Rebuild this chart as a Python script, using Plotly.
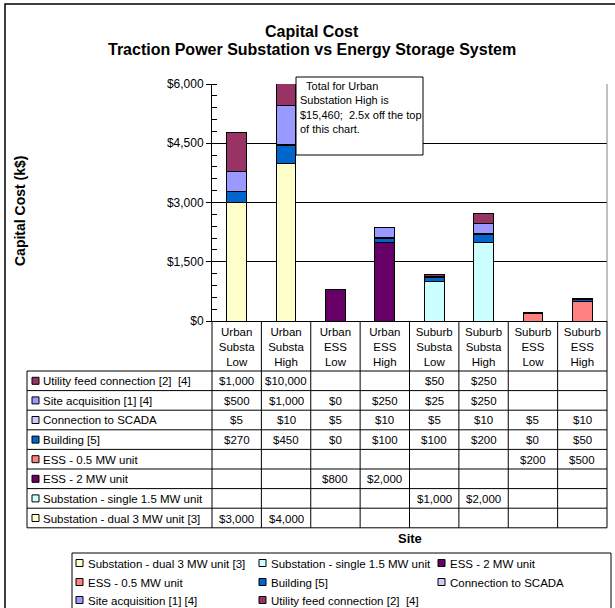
import plotly.graph_objects as go

# ---- data -------------------------------------------------------------
sites = ["Urban Substa Low", "Urban Substa High", "Urban ESS Low", "Urban ESS High",
         "Suburb Substa Low", "Suburb Substa High", "Suburb ESS Low", "Suburb ESS High"]

substation_dual = [3000, 4000, None, None, None, None, None, None]
substation_single = [None, None, None, None, 1000, 2000, None, None]
ess_2mw = [None, None, 800, 2000, None, None, None, None]
ess_05mw = [None, None, None, None, None, None, 200, 500]
building = [270, 450, 0, 100, 100, 200, 0, 50]
scada = [5, 10, 5, 10, 5, 10, 5, 10]
site_acquisition = [500, 1000, 0, 250, 25, 250, None, None]
utility_feed = [1000, 10000, None, None, 50, 250, None, None]

y_ticks = [0, 1500, 3000, 4500, 6000]
y_tick_text = [f"${v:,}" for v in y_ticks]

# series in stacking order (bottom to top)
series = [
    ("Substation - dual 3 MW unit [3]", substation_dual, "#FFFFCC"),
    ("Substation - single 1.5 MW unit", substation_single, "#CCFFFF"),
    ("ESS - 2 MW unit", ess_2mw, "#660066"),
    ("ESS - 0.5 MW unit", ess_05mw, "#FF8080"),
    ("Building [5]", building, "#0066CC"),
    ("Connection to SCADA", scada, "#CCCCFF"),
    ("Site acquisition [1] [4]", site_acquisition, "#9999FF"),
    ("Utility feed connection [2]  [4]", utility_feed, "#993366"),
]

FONT = "Arial, Liberation Sans, sans-serif"
FS = 11.5
W, H = 615, 608
PL, PR, PT, PB = 212, 607, 84, 321  # plot area in pixels


def X(px):
    return (px - PL) / (PR - PL)


def Y(py):
    return (PB - py) / (PB - PT)


fig = go.Figure()
for name, vals, color in series:
    fig.add_trace(go.Bar(x=sites, y=vals, name=name, marker_color=color,
                         marker_line=dict(color="black", width=1),
                         showlegend=False))

shapes = []
annotations = []

# outer chart frame
shapes.append(dict(type="rect", xref="paper", yref="paper", x0=X(5), x1=X(622),
                   y0=Y(4), y1=Y(625), line=dict(color="black", width=1.5),
                   layer="below"))
# right edge of plot area
shapes.append(dict(type="line", xref="paper", yref="paper", x0=1, x1=1, y0=0, y1=1,
                   line=dict(color="#808080", width=1)))

# ---- data table under the axis ----------------------------------------
ROW0, ROWH = 371, 19.6
rows = list(reversed(series))
n_rows = len(rows)
TL = 27
tbl_bottom = ROW0 + ROWH * n_rows
line_style = dict(color="black", width=1)

for k in range(n_rows + 1):
    yy = ROW0 + ROWH * k
    shapes.append(dict(type="line", xref="paper", yref="paper", x0=X(TL), x1=1,
                       y0=Y(yy), y1=Y(yy), line=line_style))
shapes.append(dict(type="line", xref="paper", yref="paper", x0=X(TL), x1=X(TL),
                   y0=Y(ROW0), y1=Y(tbl_bottom), line=line_style))
for i in range(len(sites) + 1):
    xx = X(PL + (PR - PL) * i / len(sites))
    shapes.append(dict(type="line", xref="paper", yref="paper", x0=xx, x1=xx,
                       y0=0, y1=Y(tbl_bottom), line=line_style))

for r, (name, vals, color) in enumerate(rows):
    yc = ROW0 + ROWH * (r + 0.5)
    shapes.append(dict(type="rect", xref="paper", yref="paper", x0=X(32), x1=X(39),
                       y0=Y(yc - 3.5), y1=Y(yc + 3.5), fillcolor=color,
                       line=dict(color="black", width=1)))
    annotations.append(dict(xref="paper", yref="paper", x=X(41), y=Y(yc + 0.5),
                            xanchor="left", yanchor="middle", text=name,
                            showarrow=False, font=dict(size=FS, color="black")))
    for c, v in zip(sites, vals):
        if v is None:
            continue
        annotations.append(dict(xref="x", yref="paper", x=c, y=Y(yc + 0.5),
                                xanchor="center", yanchor="middle",
                                text=f"${v:,}", showarrow=False,
                                font=dict(size=FS, color="black")))

# ---- legend --------------------------------------------------------------
shapes.append(dict(type="rect", xref="paper", yref="paper", x0=X(72), x1=X(611),
                   y0=Y(553), y1=Y(625), line=dict(color="black", width=1),
                   fillcolor="white"))
leg_cols = [76, 259, 438]
leg_rows = [563, 582, 600]
for i, (name, vals, color) in enumerate(series):
    lx = leg_cols[i % 3]
    ly = leg_rows[i // 3]
    shapes.append(dict(type="rect", xref="paper", yref="paper", x0=X(lx), x1=X(lx + 7),
                       y0=Y(ly - 3.5), y1=Y(ly + 3.5), fillcolor=color,
                       line=dict(color="black", width=1)))
    annotations.append(dict(xref="paper", yref="paper", x=X(lx + 10), y=Y(ly + 0.5),
                            xanchor="left", yanchor="middle", text=name,
                            showarrow=False, font=dict(size=FS, color="black")))

# ---- note box --------------------------------------------------------------
shapes.append(dict(type="rect", xref="paper", yref="paper", x0=X(296), x1=X(423),
                   y0=Y(77), y1=Y(155), fillcolor="white",
                   line=dict(color="black", width=1), layer="above"))
annotations.append(dict(xref="paper", yref="paper", x=X(298), y=Y(78),
                        xanchor="left", yanchor="top", align="left",
                        text="&nbsp;&nbsp;Total for Urban<br>Substation High is<br>"
                             "$15,460;&nbsp; 2.5x off the top<br>of this chart.",
                        showarrow=False, font=dict(size=11, color="black")))

# ---- titles ----------------------------------------------------------------
annotations.append(dict(xref="paper", yref="paper", x=X(312), y=Y(31),
                        xanchor="center", yanchor="middle",
                        text="<b>Capital Cost</b>", showarrow=False,
                        font=dict(size=16, color="black")))
annotations.append(dict(xref="paper", yref="paper", x=X(312), y=Y(49),
                        xanchor="center", yanchor="middle",
                        text="<b>Traction Power Substation vs Energy Storage System</b>",
                        showarrow=False, font=dict(size=16, color="black")))
annotations.append(dict(xref="paper", yref="paper", x=X(20), y=Y(211),
                        xanchor="center", yanchor="middle", textangle=-90,
                        text="<b>Capital Cost (k$)</b>", showarrow=False,
                        font=dict(size=14, color="black")))
annotations.append(dict(xref="paper", yref="paper", x=0.5, y=Y(538),
                        xanchor="center", yanchor="middle",
                        text="<b>Site</b>", showarrow=False,
                        font=dict(size=13, color="black")))

fig.update_layout(
    width=W, height=H,
    margin=dict(l=PL, r=W - PR, t=PT, b=H - PB, autoexpand=False),
    barmode="stack", bargap=0.6,
    paper_bgcolor="white", plot_bgcolor="white",
    font=dict(family=FONT, size=FS, color="black"),
    shapes=shapes, annotations=annotations,
    xaxis=dict(type="category", tickvals=sites,
               ticktext=[s.replace(" ", "<br>") for s in sites],
               showline=True, linecolor="black", linewidth=1,
               ticks="", tickfont=dict(size=FS), showgrid=False),
    yaxis=dict(range=[0, 6000], tickvals=y_ticks, ticktext=y_tick_text,
               showline=True, linecolor="black", linewidth=1,
               ticks="outside", ticklen=5, tickcolor="black",
               showgrid=True, gridcolor="black", gridwidth=1,
               zeroline=False, tickfont=dict(size=12),
               minor=dict(dtick=300, ticks="inside", ticklen=5, tickcolor="black",
                          showgrid=False)),
)

fig.write_html("out.html")
